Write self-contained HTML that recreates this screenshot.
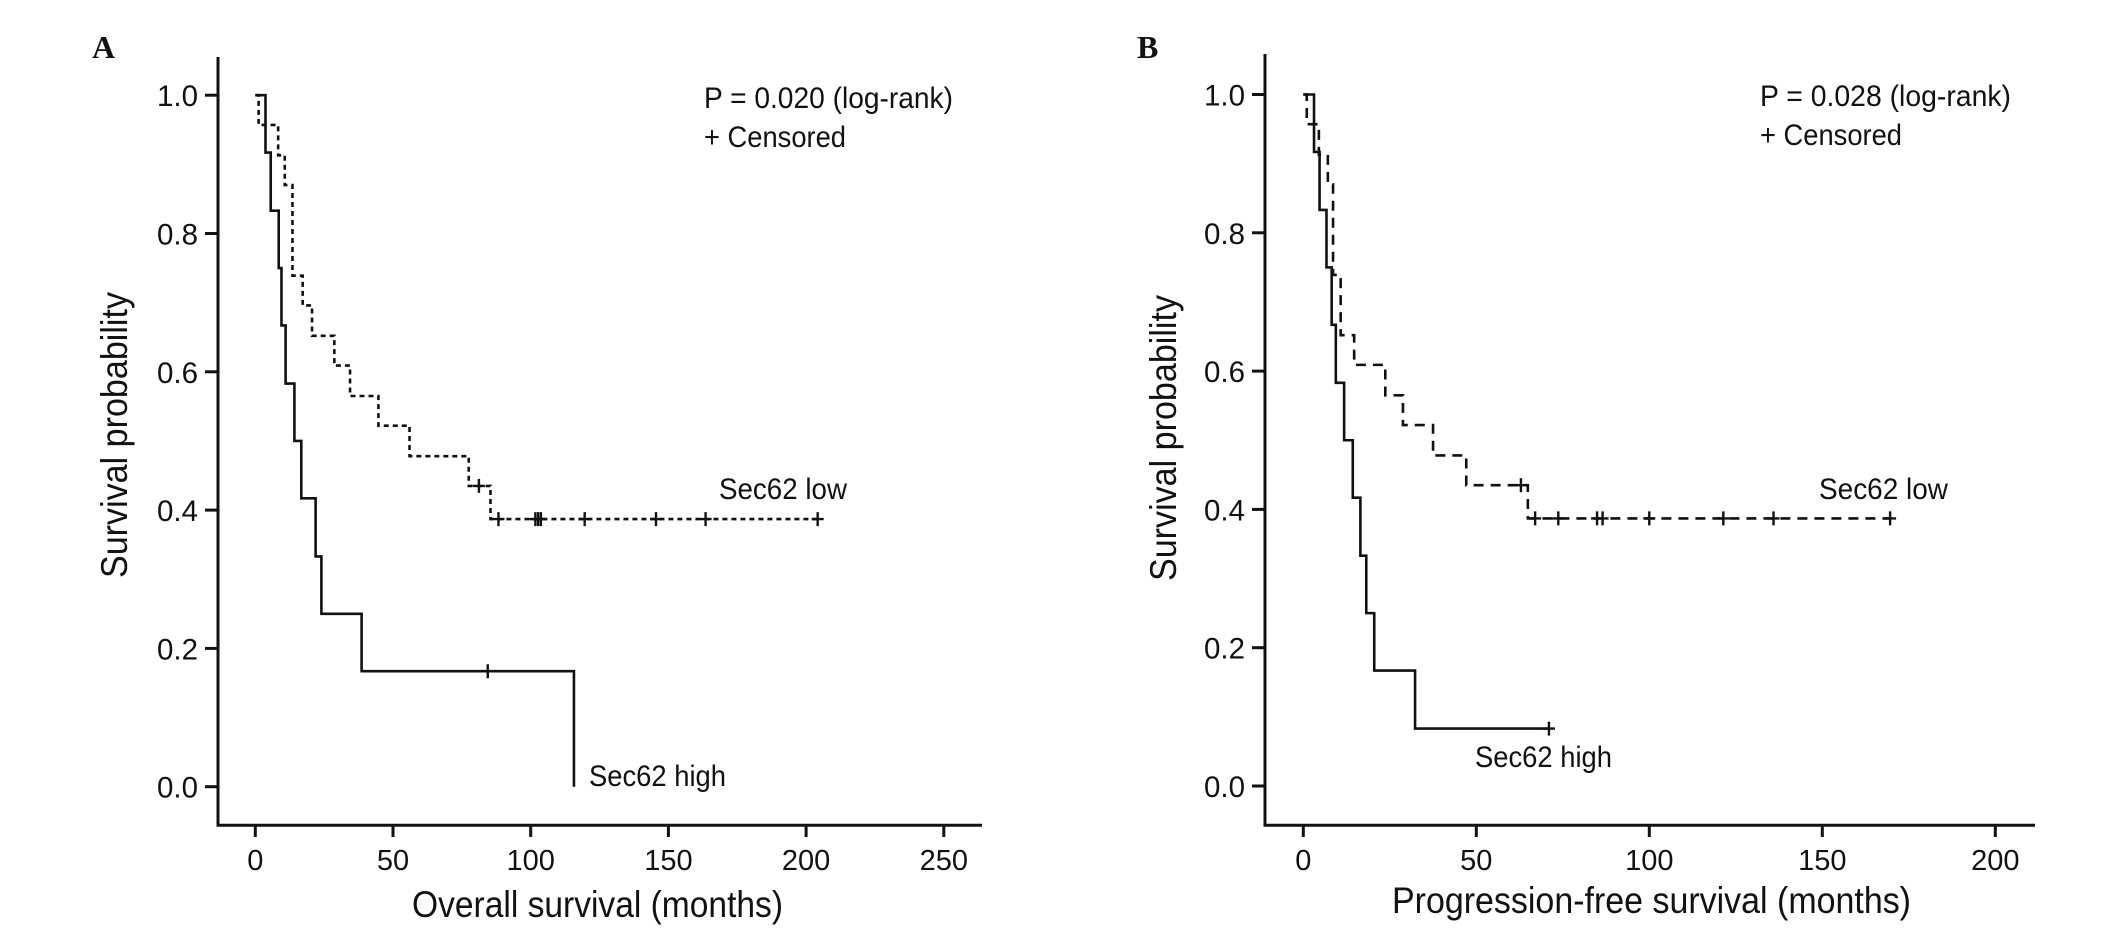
<!DOCTYPE html>
<html><head><meta charset="utf-8"><style>
html,body{margin:0;padding:0;background:#fff;}
svg{display:block;}
text{font-family:"Liberation Sans",Arial,sans-serif;fill:#111;}
</style></head><body>
<svg id="chart" width="2126" height="938" viewBox="0 0 2126 938" xmlns="http://www.w3.org/2000/svg">
<g id="A"></g>
<g id="B"></g>
</svg>
<script>
// Panel A data (overall survival)
const aXTicks = [0, 50, 100, 150, 200, 250];
const yTicks = [0.0, 0.2, 0.4, 0.6, 0.8, 1.0];
const yTickLabels = ["0.0", "0.2", "0.4", "0.6", "0.8", "1.0"];
const aHighTimes = [3.7, 5.6, 8.5, 9.5, 11, 14.2, 16.7, 21.9, 24, 38.6, 115.7];
const aHighSurv = [0.917, 0.833, 0.75, 0.667, 0.583, 0.5, 0.417, 0.333, 0.25, 0.167, 0];
const aHighCensor = [84.4];
const aHighEnd = 115.7;
const aLowTimes = [1.2, 8.3, 10.7, 13.5, 17.2, 20.6, 28.7, 34.4, 44.7, 56, 77.5, 85.4];
const aLowSurv = [0.957, 0.913, 0.870, 0.739, 0.696, 0.652, 0.609, 0.565, 0.522, 0.478, 0.435, 0.387];
const aLowCensor = [81.2, 88.3, 101.7, 102.7, 103.7, 119.6, 145.5, 163.5, 204.2];
const aLowEnd = 204.2;
// Panel B data (progression-free survival)
const bXTicks = [0, 50, 100, 150, 200];
const bHighTimes = [3.1, 4.7, 6.7, 8.2, 9.4, 11.8, 14.3, 16.5, 18.2, 20.5, 32.3];
const bHighSurv = [0.917, 0.833, 0.75, 0.667, 0.583, 0.5, 0.417, 0.333, 0.25, 0.167, 0.083];
const bHighCensor = [71];
const bHighEnd = 71;
const bLowTimes = [1, 4.5, 7.1, 8.6, 10.8, 14.7, 23.7, 28.8, 37.5, 47.1, 64.9];
const bLowSurv = [0.957, 0.913, 0.870, 0.739, 0.652, 0.609, 0.565, 0.522, 0.478, 0.435, 0.387];
const bLowCensor = [62.9, 67, 73.7, 84.9, 86.5, 100, 121.4, 135.9, 169.6];
const bLowEnd = 169.6;

const NS = "http://www.w3.org/2000/svg";
function mk(parent, tag, attrs, txt){
  const e = document.createElementNS(NS, tag);
  for (const k in attrs) e.setAttribute(k, attrs[k]);
  if (txt !== undefined) e.textContent = txt;
  parent.appendChild(e);
  return e;
}
function survAt(times, surv, t){
  let s = 1;
  for (let i = 0; i < times.length; i++) if (times[i] <= t) s = surv[i];
  return s;
}
function drawPanel(g, cfg){
  const X = m => cfg.x0 + cfg.kx * m;
  const Y = s => cfg.y0 - 691.5 * s;
  let e = mk(g, "line", {x1: cfg.axL, y1: cfg.axTop, x2: cfg.axL, y2: 826.5, stroke: "#111", "stroke-width": 3});
  
  
  e = mk(g, "line", {x1: cfg.axL - 1.5, y1: 825.3, x2: cfg.axR, y2: 825.3, stroke: "#111", "stroke-width": 3});
  
  
  yTicks.forEach((v, i) => {
    const y = Y(v);
    const t = mk(g, "line", {x1: cfg.axL - 13, y1: y, x2: cfg.axL, y2: y, stroke: "#111", "stroke-width": 3});
    
    
    const l = mk(g, "text", {x: cfg.axL - 20, y: y + 11, "text-anchor": "end", "font-size": 30, textLength: 41, lengthAdjust: "spacingAndGlyphs"}, yTickLabels[i]);
    
    
  });
  cfg.xTicks.forEach(v => {
    const x = X(v);
    const t = mk(g, "line", {x1: x, y1: 825, x2: x, y2: 837, stroke: "#111", "stroke-width": 3});
    
    
    const l = mk(g, "text", {x: x, y: 870, "text-anchor": "middle", "font-size": 29}, String(v));
    
    
  });
  cfg.series.forEach(sr => {
    let d = "M" + X(0) + " " + Y(1);
    sr.times.forEach((t, i) => { d += " H" + X(t) + " V" + Y(sr.surv[i]); });
    d += " H" + X(sr.end);
    const p = mk(g, "path", {d: d, fill: "none", stroke: "#111", "stroke-width": 2.6});
    if (sr.dash) p.setAttribute("stroke-dasharray", sr.dash);
    
    
    sr.censor.forEach(c => {
      const y = Y(survAt(sr.times, sr.surv, c));
      const cm = mk(g, "path", {d: "M" + X(c) + " " + (y - 7) + " V" + (y + 7) + " M" + (X(c) - 6) + " " + y + " H" + (X(c) + 6), stroke: "#111", "stroke-width": 2.4, fill: "none"});
      
      
    });
  });
  cfg.texts.forEach(tx => {
    const a = {x: tx.x, y: tx.y, "font-size": tx.fs};
    if (tx.w) { a.textLength = tx.w; a.lengthAdjust = "spacingAndGlyphs"; }
    if (tx.rot) { a.transform = "rotate(-90 " + tx.x + " " + tx.y + ")"; a["text-anchor"] = "middle"; }
    if (tx.serif) { a.style = 'font-family:"Liberation Serif",serif;font-weight:bold;'; }
    const t = mk(g, "text", a, tx.s);
    
    
  });
}
drawPanel(document.getElementById("A"), {
  x0: 255.3, kx: 2.754, y0: 786.7, axL: 218, axR: 982, axTop: 57, xTicks: aXTicks,
  series: [
    {name: "sec62-high-curve", times: aHighTimes, surv: aHighSurv, censor: aHighCensor, end: aHighEnd},
    {name: "sec62-low-curve", times: aLowTimes, surv: aLowSurv, censor: aLowCensor, end: aLowEnd, dash: "5 4"}
  ],
  texts: [
    {name: "panel-label-a", s: "A", x: 92, y: 58, fs: 32, serif: true},
    {name: "p-value-annotation", s: "P = 0.020 (log-rank)", x: 704, y: 108, fs: 30, w: 249},
    {name: "censored-legend", s: "+ Censored", x: 704, y: 147, fs: 30, w: 142},
    {name: "sec62-low-label", s: "Sec62 low", x: 719, y: 499, fs: 30, w: 128},
    {name: "sec62-high-label", s: "Sec62 high", x: 589, y: 786, fs: 30, w: 137},
    {name: "x-axis-title", s: "Overall survival (months)", x: 412, y: 917, fs: 37, w: 371},
    {name: "y-axis-title", s: "Survival probability", x: 127, y: 435, fs: 37, w: 286, rot: true}
  ]
});
drawPanel(document.getElementById("B"), {
  x0: 1303.3, kx: 3.46, y0: 786.0, axL: 1265, axR: 2035, axTop: 54, xTicks: bXTicks,
  series: [
    {name: "sec62-high-curve", times: bHighTimes, surv: bHighSurv, censor: bHighCensor, end: bHighEnd},
    {name: "sec62-low-curve", times: bLowTimes, surv: bLowSurv, censor: bLowCensor, end: bLowEnd, dash: "10 7"}
  ],
  texts: [
    {name: "panel-label-b", s: "B", x: 1137, y: 58, fs: 32, serif: true},
    {name: "p-value-annotation", s: "P = 0.028 (log-rank)", x: 1760, y: 106, fs: 30, w: 251},
    {name: "censored-legend", s: "+ Censored", x: 1760, y: 145, fs: 30, w: 142},
    {name: "sec62-low-label", s: "Sec62 low", x: 1819, y: 499, fs: 30, w: 129},
    {name: "sec62-high-label", s: "Sec62 high", x: 1475, y: 767, fs: 30, w: 137},
    {name: "x-axis-title", s: "Progression-free survival (months)", x: 1392, y: 913, fs: 37, w: 519},
    {name: "y-axis-title", s: "Survival probability", x: 1176, y: 438, fs: 37, w: 286, rot: true}
  ]
});
</script>
</body></html>
